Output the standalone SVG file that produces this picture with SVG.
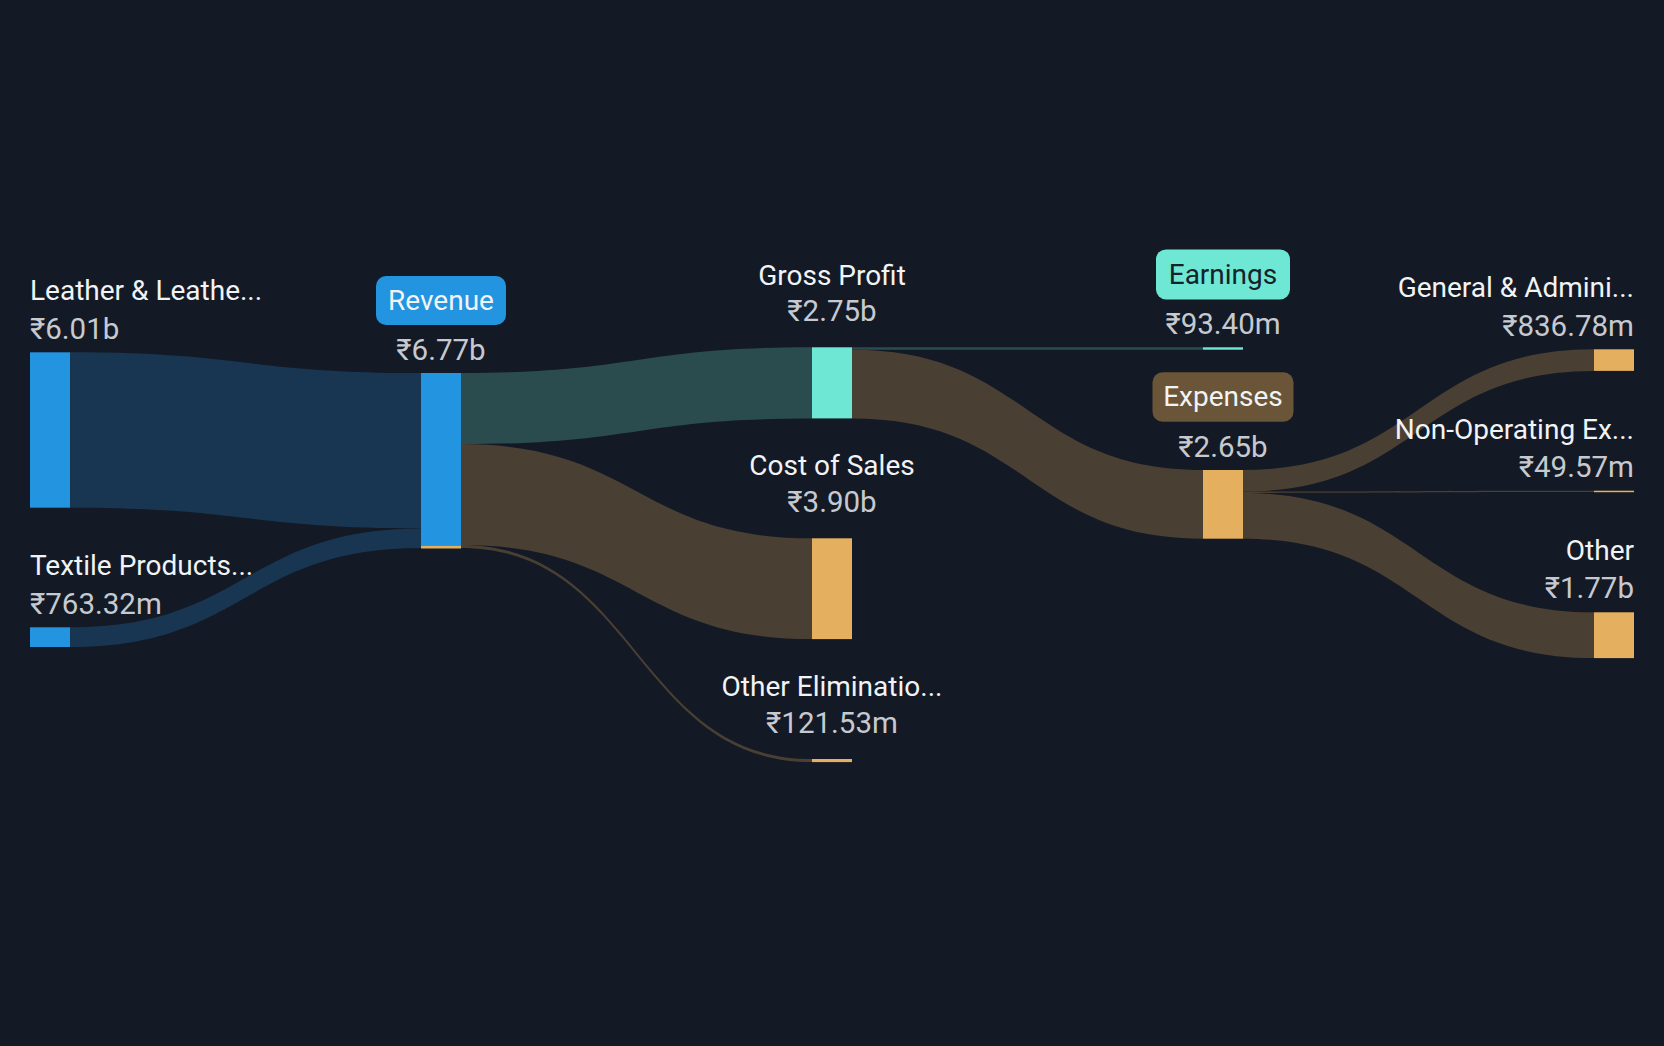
<svg xmlns="http://www.w3.org/2000/svg" width="1664" height="1046" viewBox="0 0 1664 1046">
<style>
.lbl{font-family:Roboto,"Noto Sans","DejaVu Sans",sans-serif;font-size:28px;fill:#f1f3f5}
.val{font-family:Roboto,"Noto Sans","DejaVu Sans",sans-serif;font-size:29.5px;fill:#c6cad0}
.mid{text-anchor:middle}
.end{text-anchor:end}
.blue{fill:#2394df}
.mint{fill:#6ee8d4}
.orange{fill:#e4af5f}
.lk-blue{fill:#183651}
.lk-teal{fill:#2b4c4f}
.lk-brown{fill:#4a3f33}
</style>
<rect width="1664" height="1046" fill="#141a25"/>
<g id="connectors">
<path class="lk-blue" d="M70 352.3 C245.5 352.3 245.5 373 421 373 L421 528.4 C245.5 528.4 245.5 507.7 70 507.7 Z"/>
<path class="lk-blue" d="M70 627.3 C245.5 627.3 245.5 528.4 421 528.4 L421 548.1 C245.5 548.1 245.5 647 70 647 Z"/>
<path class="lk-teal" d="M461 373 C636.5 373 636.5 347.3 812 347.3 L812 418.4 C636.5 418.4 636.5 444.1 461 444.1 Z"/>
<path class="lk-brown" d="M461 444.1 C636.5 444.1 636.5 538.3 812 538.3 L812 639.1 C636.5 639.1 636.5 544.9 461 544.9 Z"/>
<path class="lk-brown" d="M461 544.9 C636.5 544.9 636.5 759 812 759 L812 762.1 C636.5 762.1 636.5 548 461 548 Z"/>
<path class="lk-teal" d="M852 347.3 L1203 347.3 L1203 349.7 L852 349.7 Z"/>
<path class="lk-brown" d="M852 349.7 C1027.5 349.7 1027.5 470 1203 470 L1203 538.7 C1027.5 538.7 1027.5 418.4 852 418.4 Z"/>
<path class="lk-brown" d="M1243 470 C1418.5 470 1418.5 349.3 1594 349.3 L1594 370.9 C1418.5 370.9 1418.5 491.6 1243 491.6 Z"/>
<path class="lk-brown" d="M1243 491.6 C1418.5 491.6 1418.5 490.7 1594 490.7 L1594 492 C1418.5 492 1418.5 492.9 1243 492.9 Z"/>
<path class="lk-brown" d="M1243 492.9 C1418.5 492.9 1418.5 612.3 1594 612.3 L1594 658.1 C1418.5 658.1 1418.5 538.7 1243 538.7 Z"/>
</g>
<g id="node-leather">
<rect class="blue" x="30" y="352.3" width="40" height="155.4"/>
<text class="lbl" x="30" y="300">Leather &amp; Leathe...</text>
<text class="val" x="30" y="339">₹6.01b</text>
</g>
<g id="node-textile">
<rect class="blue" x="30" y="627.3" width="40" height="19.7"/>
<text class="lbl" x="30" y="575.3">Textile Products...</text>
<text class="val" x="30" y="614">₹763.32m</text>
</g>
<g id="node-revenue">
<rect class="blue" x="421" y="373" width="40" height="172.5"/>
<rect class="orange" x="421" y="545.5" width="40" height="3"/>
<rect class="blue" x="376" y="276" width="130" height="49" rx="10"/>
<text class="lbl mid" x="441" y="310.3">Revenue</text>
<text class="val mid" x="441" y="360.3">₹6.77b</text>
</g>
<g id="node-gross-profit">
<rect class="mint" x="812" y="347.3" width="40" height="71.1"/>
<text class="lbl mid" x="832" y="285">Gross Profit</text>
<text class="val mid" x="832" y="321.2">₹2.75b</text>
</g>
<g id="node-cost-of-sales">
<rect class="orange" x="812" y="538.3" width="40" height="100.8"/>
<text class="lbl mid" x="832" y="475.3">Cost of Sales</text>
<text class="val mid" x="832" y="512.2">₹3.90b</text>
</g>
<g id="node-other-eliminations">
<rect class="orange" x="812" y="759" width="40" height="3.1"/>
<text class="lbl mid" x="832" y="695.6">Other Eliminatio...</text>
<text class="val mid" x="832" y="732.8">₹121.53m</text>
</g>
<g id="node-earnings">
<rect class="mint" x="1203" y="347.3" width="40" height="2.4"/>
<rect class="mint" x="1156" y="249.4" width="134" height="50" rx="10"/>
<text class="lbl mid" x="1223" y="284" style="fill:#16222a">Earnings</text>
<text class="val mid" x="1223" y="333.5">₹93.40m</text>
</g>
<g id="node-expenses">
<rect class="orange" x="1203" y="470" width="40" height="68.7"/>
<rect x="1152.5" y="372.3" width="141" height="49.4" rx="10" fill="#6a5538"/>
<text class="lbl mid" x="1223" y="406">Expenses</text>
<text class="val mid" x="1223" y="456.5">₹2.65b</text>
</g>
<g id="node-general-admin">
<rect class="orange" x="1594" y="349.3" width="40" height="21.6"/>
<text class="lbl end" x="1634" y="297">General &amp; Admini...</text>
<text class="val end" x="1634" y="336">₹836.78m</text>
</g>
<g id="node-non-operating">
<rect class="orange" x="1594" y="490.7" width="40" height="1.5"/>
<text class="lbl end" x="1634" y="439.3">Non-Operating Ex...</text>
<text class="val end" x="1634" y="477.3">₹49.57m</text>
</g>
<g id="node-other">
<rect class="orange" x="1594" y="612.3" width="40" height="45.8"/>
<text class="lbl end" x="1634" y="560.3">Other</text>
<text class="val end" x="1634" y="598">₹1.77b</text>
</g>
</svg>
